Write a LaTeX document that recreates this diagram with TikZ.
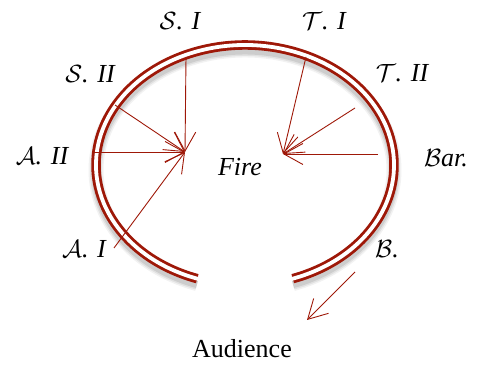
\documentclass[tikz,border=0pt]{standalone}
\usepackage{fontspec}
\setmainfont{Liberation Serif}
\usetikzlibrary{arrows.meta}
\definecolor{ringred}{RGB}{158,24,8}
\newcommand\swash[1]{{\fontsize{29}{30}\selectfont$\mathcal{#1}$}}
\tikzset{
  lbl/.style={font=\fontsize{26}{30}\selectfont\itshape, anchor=base, inner sep=0pt},
  ray/.style={draw=ringred, line width=0.9pt, -{Straight Barb[length=19pt,width=21pt,line width=0.9pt]}},
}
\begin{document}
\begin{tikzpicture}[x=1pt,y=-1pt]
\useasboundingbox (0,0) rectangle (477,366);
% ring shadow
\foreach \w/\o in {15/0.05,12/0.07,9/0.09}{
  \draw[black, opacity=\o, line width=\w pt] (245,170) ++(108.7:149 and 120) arc[start angle=108.7, end angle=431.3, x radius=149, y radius=120];
}
% ring
\draw[ringred, line width=9.5pt] (245,165) ++(108.7:149 and 120) arc[start angle=108.7, end angle=431.3, x radius=149, y radius=120];
\draw[white, line width=3.8pt] (245,165) ++(107.9:149 and 120) arc[start angle=107.9, end angle=432.1, x radius=149, y radius=120];
% targets
\coordinate (L) at (185,152);
\coordinate (R) at (283,154);
\coordinate (sI) at (186,57);
\coordinate (sII) at (115,105);
\coordinate (aII) at (92,152);
\coordinate (aI) at (114,248);
\coordinate (tI) at (306,57);
\coordinate (tII) at (355,108);
\coordinate (bar) at (378,154);
\coordinate (b1) at (355,272);
\coordinate (b2) at (307,320);
\draw[ray] (sI) -- (L);
\draw[ray] (sII) -- (L);
\draw[ray] (aII) -- (L);
\draw[ray] (aI) -- (L);
\draw[ray] (tI) -- (R);
\draw[ray] (tII) -- (R);
\draw[ray] (bar) -- (R);
\draw[ray] (b1) -- (b2);
% labels
\node[lbl] (nSI) at (180,30) {\swash{S}. I};
\node[lbl] (nTI) at (324,30) {\swash{T}. I};
\node[lbl] (nSII) at (90,83) {\swash{S}. II};
\node[lbl] (nTII) at (402,82) {\swash{T}. II};
\node[lbl] (nAII) at (42,165) {\swash{A}. II};
\node[lbl] (nAI) at (84,258) {\swash{A}. I};
\node[lbl] (nFire) at (240,176) {Fire};
\node[lbl] (nBar) at (446,167) {\swash{B}ar.};
\node[lbl] (nB) at (387,258) {\swash{B}.};
\node[font=\fontsize{26}{30}\selectfont, anchor=base, inner sep=0pt] (nAud) at (242,358) {Audience};
\end{tikzpicture}
\end{document}
